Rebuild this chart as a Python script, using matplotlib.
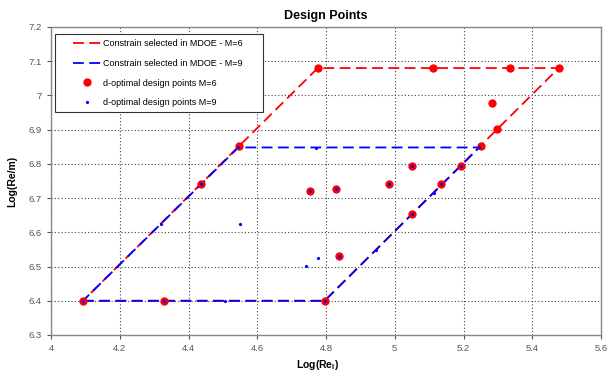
import matplotlib
matplotlib.use("Agg")
import matplotlib.pyplot as plt
from matplotlib.ticker import FixedLocator
from matplotlib.patches import Rectangle

plt.rcParams['font.family'] = ['Liberation Sans', 'DejaVu Sans']

# Constraint polygons (closed)
red_poly_x = [4.093, 4.796, 5.477, 4.776, 4.093]
red_poly_y = [6.40, 6.40, 7.08, 7.08, 6.40]
blue_poly_x = [4.093, 4.796, 5.246, 4.545, 4.093]
blue_poly_y = [6.40, 6.40, 6.848, 6.848, 6.40]

# d-optimal design points M=6
red_x = [4.093, 4.329, 4.796, 4.436, 4.548, 4.754, 4.829, 4.837, 4.983, 5.050,
         5.050, 5.135, 5.192, 5.250, 5.297, 5.283, 4.776, 5.112, 5.335, 5.477]
red_y = [6.400, 6.400, 6.400, 6.740, 6.853, 6.722, 6.727, 6.532, 6.741, 6.795,
         6.655, 6.741, 6.795, 6.852, 6.902, 6.979, 7.080, 7.080, 7.080, 7.080]

# d-optimal design points M=9
blue_x = [4.093, 4.329, 4.506, 4.796, 4.320, 4.436, 4.545, 4.549, 4.743, 4.777, 4.754,
          4.829, 4.837, 4.772, 4.945, 4.983, 5.050, 5.050, 5.113, 5.135, 5.192, 5.246]
blue_y = [6.400, 6.400, 6.400, 6.400, 6.623, 6.740, 6.848, 6.623, 6.501, 6.525, 6.722,
          6.727, 6.532, 6.846, 6.547, 6.741, 6.795, 6.655, 6.715, 6.741, 6.795, 6.849]

x_ticks = [4.0, 4.2, 4.4, 4.6, 4.8, 5.0, 5.2, 5.4, 5.6]
x_labels = ['4', '4.2', '4.4', '4.6', '4.8', '5', '5.2', '5.4', '5.6']
y_ticks = [6.3, 6.4, 6.5, 6.6, 6.7, 6.8, 6.9, 7.0, 7.1, 7.2]
y_labels = ['6.3', '6.4', '6.5', '6.6', '6.7', '6.8', '6.9', '7', '7.1', '7.2']

W, H = 615, 376
fig = plt.figure(figsize=(W / 100, H / 100), dpi=100)
ax = fig.add_axes([51/W, 1 - 335/H, (601-51)/W, (335-27)/H])

ax.plot(red_poly_x, red_poly_y, color='#FF0000', lw=1.3, dashes=(6, 3),
        label='Constrain selected in MDOE - M=6', zorder=3)
ax.plot(blue_poly_x, blue_poly_y, color='#0000FF', lw=1.3, dashes=(6, 3),
        label='Constrain selected in MDOE - M=9', zorder=3)
ax.plot(red_x, red_y, 'o', color='#FF0000', ms=6, mec='none',
        label='d-optimal design points M=6', zorder=4)
ax.plot(blue_x, blue_y, 'o', color='#0000FF', ms=2.3, mec='none',
        label='d-optimal design points M=9', zorder=5)

ax.set_xlim(4.0, 5.6)
ax.set_ylim(6.3, 7.2)
ax.xaxis.set_major_locator(FixedLocator(x_ticks))
ax.set_xticklabels(x_labels)
ax.yaxis.set_major_locator(FixedLocator(y_ticks))
ax.set_yticklabels(y_labels)
ax.tick_params(labelsize=6.8, labelcolor='#555555', color='#555555', length=3, width=0.8)
ax.grid(True, color='#444444', ls=(0, (1, 2)), lw=0.8)
ax.set_axisbelow(True)
for s in ax.spines.values():
    s.set_color('#888888')
    s.set_linewidth(1)

ax.set_title('Design Points', fontsize=9, fontweight='bold', pad=6)
ax.set_xlabel('Log(Re$_\\mathregular{l}$)', fontsize=7.5, fontweight='bold')
ax.xaxis.set_label_coords(0.484, -0.075)
ax.set_ylabel('Log(Re/m)', fontsize=7.5, fontweight='bold', labelpad=8)

# legend box
box = Rectangle((55/W, 1 - 112/H), (263-55)/W, (112-34)/H, transform=fig.transFigure,
                facecolor='white', edgecolor='#333333', lw=0.8, zorder=6, clip_on=False)
ax.add_patch(box)
leg = ax.legend(loc='upper left', bbox_to_anchor=(73/W, 1 - 39.5/H),
                bbox_transform=fig.transFigure, fontsize=6.5, frameon=False,
                borderpad=0, labelspacing=1.17, handlelength=3.1, handletextpad=0.25,
                borderaxespad=0)
leg.set_zorder(7)

fig.savefig('out.png', dpi=100)
